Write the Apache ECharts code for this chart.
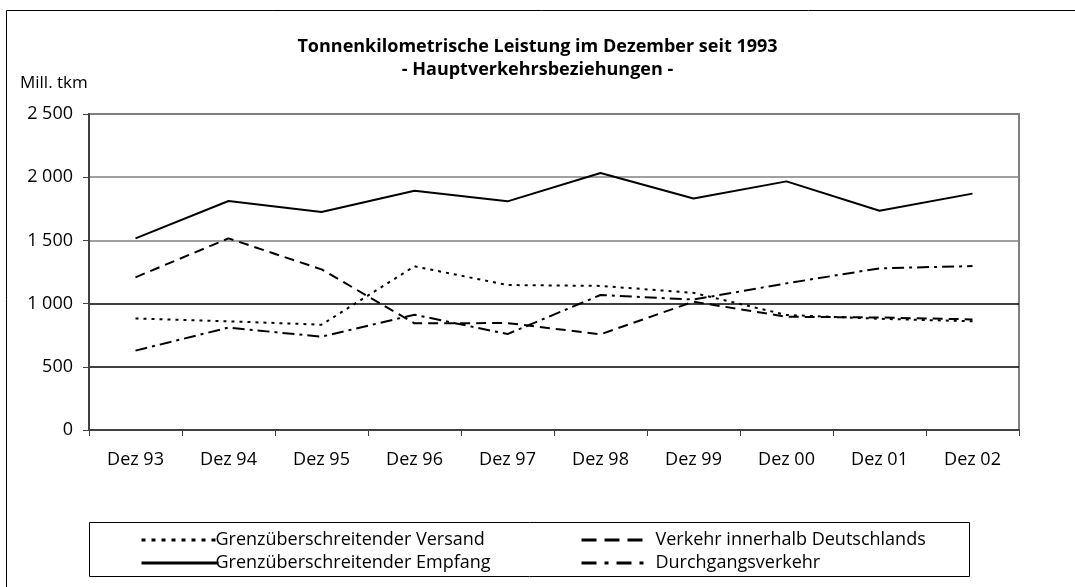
<!DOCTYPE html>
<html><head><meta charset="utf-8">
<script src="https://cdn.jsdelivr.net/npm/echarts@6/dist/echarts.min.js"></script>
<style>html,body{margin:0;padding:0;background:#fff}#c{width:1075px;height:587px}</style>
</head><body><div id="c"></div>
<script>
const categories = ['Dez 93','Dez 94','Dez 95','Dez 96','Dez 97','Dez 98','Dez 99','Dez 00','Dez 01','Dez 02'];
const versand    = [883, 860, 833, 1295, 1147, 1140, 1085, 910, 880, 860];
const innerhalb  = [1208, 1516, 1271, 844, 846, 757, 1015, 896, 890, 875];
const empfang    = [1516, 1812, 1725, 1893, 1809, 2033, 1832, 1967, 1735, 1870];
const durchgang  = [628, 810, 738, 912, 759, 1068, 1032, 1160, 1279, 1297];
const yTicks = [0, 500, 1000, 1500, 2000, 2500];
const FONT = '"Open Sans", sans-serif';

const chart = echarts.init(document.getElementById('c'), null, {renderer:'canvas'});
function mk(name, data, type){
  return {name, type:'line', data, symbol:'none', smooth:false,
    lineStyle:{color:'#000', width:2, type}, itemStyle:{color:'#000'}};
}
chart.setOption({
  animation:false,
  textStyle:{fontFamily:FONT},
  title:{text:'Tonnenkilometrische Leistung im Dezember seit 1993\n- Hauptverkehrsbeziehungen -',
    left:'center', top:30, textStyle:{fontFamily:FONT, fontSize:18, fontWeight:'bold', color:'#000', lineHeight:23}},
  graphic:[
    {type:'rect', shape:{x:6.5,y:10.5,width:1100,height:700}, style:{fill:null, stroke:'#000', lineWidth:1}},
    {type:'text', left:20, top:75, style:{text:'Mill. tkm', font:'17px '+FONT, fill:'#000'}},
    {type:'rect', shape:{x:89.5,y:522.5,width:880,height:54}, style:{fill:null, stroke:'#000', lineWidth:1}}
  ],
  grid:{left:89, right:56, top:114, bottom:157, show:true, borderColor:'#808080', borderWidth:2, backgroundColor:'transparent'},
  xAxis:{type:'category', data:categories, boundaryGap:true,
    axisLine:{lineStyle:{color:'#404040', width:2}},
    axisTick:{show:true, length:6, inside:false, lineStyle:{color:'#404040'}},
    axisLabel:{color:'#000', fontSize:18, margin:21, fontFamily:FONT}},
  yAxis:{type:'value', min:0, max:2500, interval:500,
    axisLine:{show:true, lineStyle:{color:'#404040', width:2}},
    axisTick:{show:true, length:6, lineStyle:{color:'#404040'}},
    axisLabel:{color:'#000', fontSize:18, margin:16, fontFamily:FONT,
      formatter:v=>String(v).replace(/\B(?=(\d{3})+(?!\d))/g,' ')},
    splitLine:{show:true, lineStyle:{color:['#000','#000','#000','#808080','#808080','#808080'], width:1.5}}},
  legend:[
    {data:[{name:'Grenzüberschreitender Versand', lineStyle:{width:3, type:[4,6]}},
           {name:'Grenzüberschreitender Empfang', lineStyle:{width:3}}], orient:'vertical',
     left:135, top:526, itemWidth:77, itemHeight:20, itemGap:5, itemStyle:{opacity:0},
     textStyle:{fontSize:18, color:'#000', fontFamily:FONT, padding:[0,0,0,-8]}},
    {data:[{name:'Verkehr innerhalb Deutschlands', lineStyle:{width:3, type:[15,8]}},
           {name:'Durchgangsverkehr', lineStyle:{width:3, type:[15,8,4,8]}}], orient:'vertical',
     left:575, top:526, itemWidth:67, itemHeight:20, itemGap:5, itemStyle:{opacity:0},
     textStyle:{fontSize:18, color:'#000', fontFamily:FONT, padding:[0,0,0,2]}}
  ],
  series:[
    mk('Grenzüberschreitender Versand', versand, [3,5]),
    mk('Verkehr innerhalb Deutschlands', innerhalb, [10,6]),
    mk('Grenzüberschreitender Empfang', empfang, 'solid'),
    mk('Durchgangsverkehr', durchgang, [12,5,3,5])
  ]
});
</script></body></html>
